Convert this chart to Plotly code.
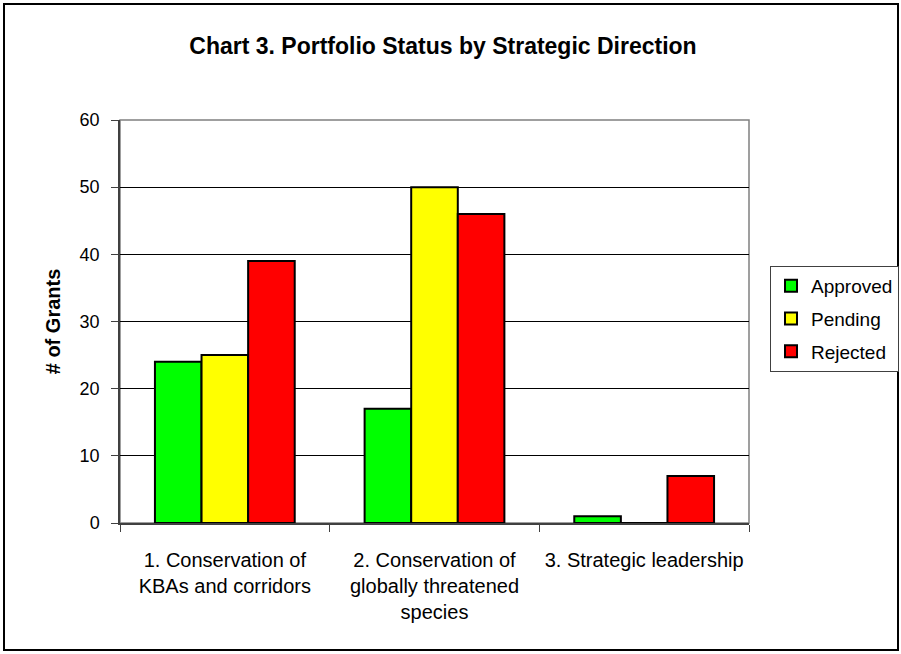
import plotly.graph_objects as go

categories = [
    "1. Conservation of<br>KBAs and corridors",
    "2. Conservation of<br>globally threatened<br>species",
    "3. Strategic leadership",
]
approved = [24, 17, 1]
pending = [25, 50, 0]
rejected = [39, 46, 7]
y_ticks = [0, 10, 20, 30, 40, 50, 60]

FONT = "Liberation Sans, Arial, sans-serif"
W, H = 901, 654
L, R, T, B = 120, 152, 120, 131
pw, ph = W - L - R, H - T - B

fig = go.Figure()
for name, vals, color in [
    ("Approved", approved, "#00FF00"),
    ("Pending", pending, "#FFFF00"),
    ("Rejected", rejected, "#FF0000"),
]:
    fig.add_trace(go.Bar(
        name=name, x=categories, y=vals, legendgroup=name,
        marker=dict(color=color, line=dict(color="#000000", width=2)),
    ))

# grey frame around the plotting area
fig.add_shape(type="rect", xref="paper", yref="paper", x0=0, x1=1, y0=0, y1=1,
              line=dict(color="#808080", width=1.5), layer="below")
# black outline around the whole chart
fig.add_shape(type="rect", xref="paper", yref="paper",
              x0=(4 - L) / pw, x1=(898 - L) / pw,
              y0=(H - B - 650) / ph, y1=(H - B - 4) / ph,
              line=dict(color="#000000", width=2))

fig.update_layout(
    width=W, height=H,
    margin=dict(l=L, r=R, t=T, b=B, autoexpand=False),
    paper_bgcolor="white", plot_bgcolor="white",
    barmode="group", bargap=1 - 140 / 210, bargroupgap=0,
    font=dict(family=FONT, color="#000000", size=18),
    title=dict(text="<b>Chart 3. Portfolio Status by Strategic Direction</b>",
               x=443 / W, xanchor="center", y=1 - 46 / H, yanchor="middle",
               font=dict(size=23, family=FONT)),
    legend=dict(x=(770 - L) / pw, xanchor="left", y=(H - B - 266) / ph, yanchor="top",
                bordercolor="#404040", borderwidth=1, bgcolor="white",
                font=dict(size=19, family=FONT), itemwidth=30, tracegroupgap=5),
    showlegend=True,
)
fig.update_xaxes(
    type="category", showgrid=False, showline=True, linecolor="#404040", linewidth=1.5,
    ticks="outside", tickson="boundaries", ticklen=7, tickcolor="#404040",
    tickfont=dict(size=20, family=FONT), range=[-0.5, 2.5], ticklabelstandoff=18,
    tickangle=0, automargin=False,
)
fig.update_yaxes(
    range=[0, 60], tickvals=y_ticks, showgrid=True, gridcolor="#000000", gridwidth=1,
    showline=True, linecolor="#404040", linewidth=1.5, ticks="outside", ticklen=7,
    tickcolor="#404040", tickfont=dict(size=18, family=FONT), zeroline=False,
    ticklabelstandoff=8, automargin=False,
    title=dict(text="<b># of Grants</b>", font=dict(size=20, family=FONT), standoff=14),
)

fig.write_html("out.html")
